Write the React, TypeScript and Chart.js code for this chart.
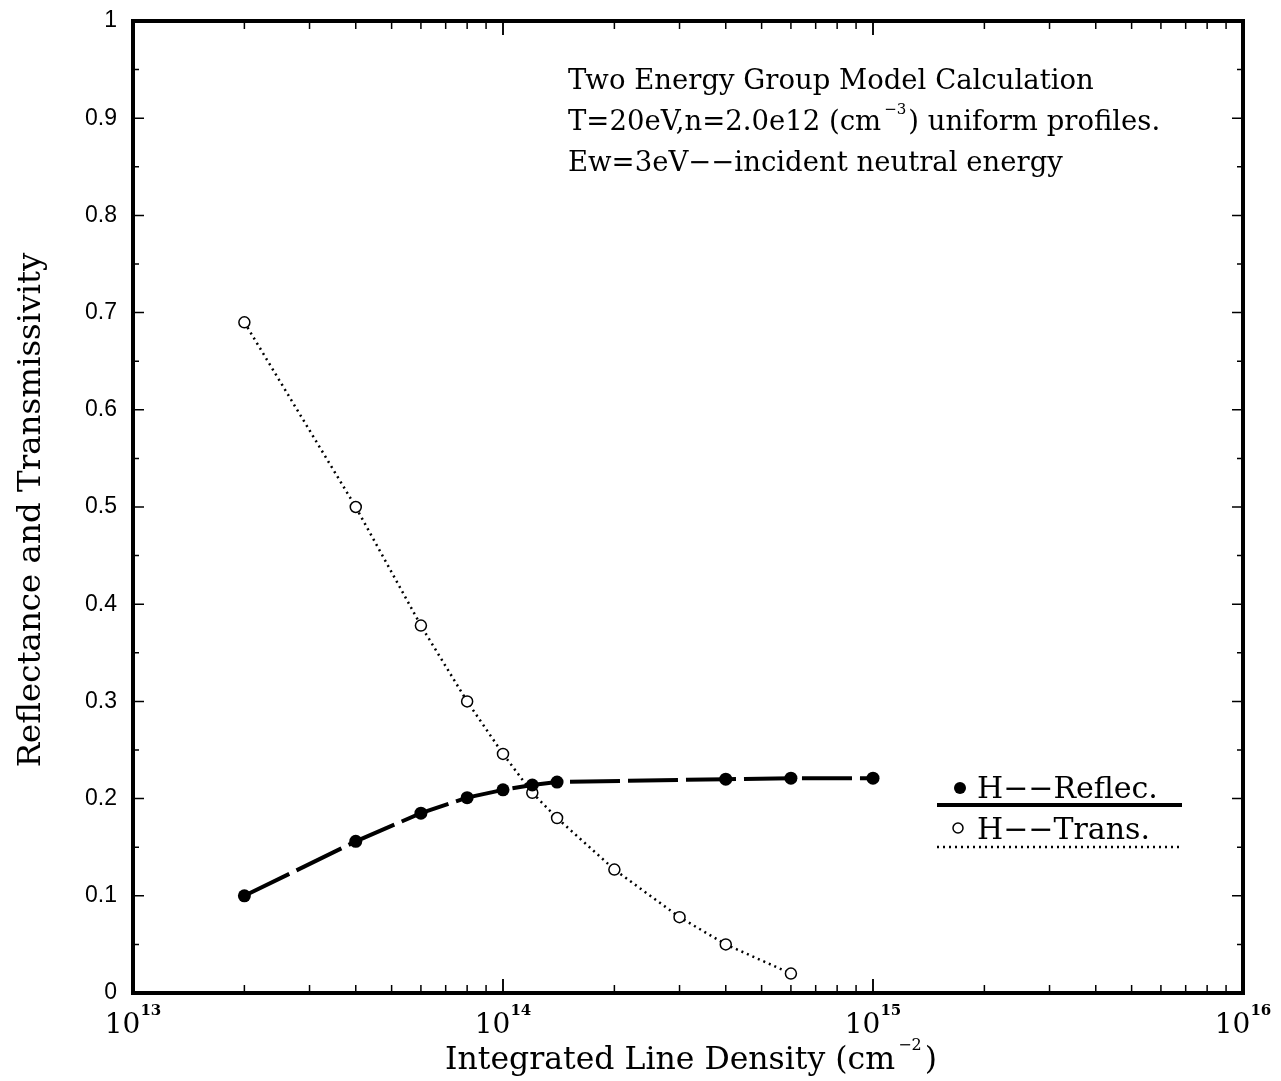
import React, { useEffect, useRef } from "react";
import { Chart, registerables } from "chart.js";

Chart.register(...registerables);

// ---- data ----
const reflecDensity = [2e13, 4e13, 6e13, 8e13, 1e14, 1.2e14, 1.4e14, 4e14, 6e14, 1e15];
const reflectance = [0.1, 0.156, 0.185, 0.201, 0.209, 0.214, 0.217, 0.22, 0.221, 0.221];
const transDensity = [2e13, 4e13, 6e13, 8e13, 1e14, 1.2e14, 1.4e14, 2e14, 3e14, 4e14, 6e14];
const transmissivity = [0.69, 0.5, 0.378, 0.3, 0.246, 0.206, 0.18, 0.127, 0.078, 0.05, 0.02];

const yTickValues = [0, 0.1, 0.2, 0.3, 0.4, 0.5, 0.6, 0.7, 0.8, 0.9, 1];
const yTickLabels = ["0", "0.1", "0.2", "0.3", "0.4", "0.5", "0.6", "0.7", "0.8", "0.9", "1"];
const xDecadeExponents = [13, 14, 15, 16];
const xTickBase = "10";

const annotationLines = [
  "Two Energy Group Model Calculation",
  "T=20eV,n=2.0e12 (cm",
  "Ew=3eV\u2212\u2212incident neutral energy",
];
const annotationSup = "\u22123";
const annotationTail = ") uniform profiles.";
const legendLabels = ["H\u2212\u2212Reflec.", "H\u2212\u2212Trans."];
const xTitle = "Integrated Line Density (cm";
const xTitleSup = "\u22122";
const yTitle = "Reflectance and Transmissivity";

const SERIF = "'DejaVu Serif', serif";
const SANS = "'Liberation Sans', 'DejaVu Sans', sans-serif";

const decorPlugin = {
  id: "decor",
  afterDraw(chart: any) {
    const ctx = chart.ctx;
    const { left, right, top, bottom } = chart.chartArea;
    const xs = chart.scales.x;
    const ys = chart.scales.y;
    ctx.save();
    ctx.strokeStyle = "#000";
    ctx.fillStyle = "#000";

    // frame
    ctx.lineWidth = 4;
    ctx.strokeRect(left, top, right - left, bottom - top);

    // y ticks (major 0.1, minor 0.05) on both sides
    ctx.lineWidth = 1.5;
    for (let i = 0; i <= 20; i++) {
      const v = i * 0.05;
      const py = ys.getPixelForValue(v);
      const len = i % 2 === 0 ? 11 : 6;
      ctx.beginPath();
      ctx.moveTo(left, py);
      ctx.lineTo(left + len, py);
      ctx.moveTo(right, py);
      ctx.lineTo(right - len, py);
      ctx.stroke();
    }
    // x ticks (decades major, 2..9 minor) on both sides
    for (let d = 13; d < 16; d++) {
      for (let m = 1; m <= 10; m++) {
        const v = m * Math.pow(10, d);
        const px = xs.getPixelForValue(v);
        const len = m === 1 || m === 10 ? 14 : 8;
        ctx.beginPath();
        ctx.moveTo(px, bottom);
        ctx.lineTo(px, bottom - len);
        ctx.moveTo(px, top);
        ctx.lineTo(px, top + len);
        ctx.stroke();
      }
    }

    // y tick labels
    ctx.font = `23px ${SANS}`;
    ctx.textAlign = "right";
    ctx.textBaseline = "middle";
    yTickValues.forEach((v, i) => {
      ctx.fillText(yTickLabels[i], left - 16, ys.getPixelForValue(v));
    });

    // x tick labels 10^n
    ctx.textBaseline = "alphabetic";
    xDecadeExponents.forEach((e) => {
      const px = xs.getPixelForValue(Math.pow(10, e));
      ctx.font = `28px ${SERIF}`;
      const wb = ctx.measureText(xTickBase).width;
      ctx.font = `bold 15px ${SERIF}`;
      const ws = ctx.measureText(String(e)).width;
      const x0 = px - (wb + ws) / 2;
      ctx.textAlign = "left";
      ctx.font = `28px ${SERIF}`;
      ctx.fillText(xTickBase, x0, 1033);
      ctx.font = `bold 15px ${SERIF}`;
      ctx.fillText(String(e), x0 + wb, 1015);
    });

    // x title
    ctx.font = `31.5px ${SERIF}`;
    const wt = ctx.measureText(xTitle).width;
    ctx.font = `16px ${SERIF}`;
    const wsup = ctx.measureText(xTitleSup).width;
    ctx.font = `31.5px ${SERIF}`;
    const wp = ctx.measureText(")").width;
    const tx = 691 - (wt + wsup + wp + 6) / 2;
    ctx.textAlign = "left";
    ctx.fillText(xTitle, tx, 1069);
    ctx.font = `16px ${SERIF}`;
    ctx.fillText(xTitleSup, tx + wt + 3, 1050);
    ctx.font = `31.5px ${SERIF}`;
    ctx.fillText(")", tx + wt + wsup + 6, 1069);

    // y title
    ctx.save();
    ctx.translate(40, 510);
    ctx.rotate(-Math.PI / 2);
    ctx.textAlign = "center";
    ctx.font = `32.5px ${SERIF}`;
    ctx.fillText(yTitle, 0, 0);
    ctx.restore();

    // annotation
    ctx.textAlign = "left";
    ctx.font = `27.5px ${SERIF}`;
    const ax = 568;
    ctx.fillText(annotationLines[0], ax, 89);
    ctx.fillText(annotationLines[2], ax, 171);
    ctx.fillText(annotationLines[1], ax, 130);
    const w1 = ctx.measureText(annotationLines[1]).width;
    ctx.font = `15px ${SERIF}`;
    ctx.fillText(annotationSup, ax + w1 + 3, 114);
    const w2 = ctx.measureText(annotationSup).width;
    ctx.font = `27.5px ${SERIF}`;
    ctx.fillText(annotationTail, ax + w1 + w2 + 5, 130);

    // legend
    ctx.font = `30px ${SERIF}`;
    ctx.beginPath();
    ctx.arc(960, 788, 6, 0, Math.PI * 2);
    ctx.fill();
    ctx.fillText(legendLabels[0], 977, 798);
    ctx.lineWidth = 4;
    ctx.beginPath();
    ctx.moveTo(937, 805);
    ctx.lineTo(1182, 805);
    ctx.stroke();

    ctx.lineWidth = 1.5;
    ctx.beginPath();
    ctx.arc(958, 828, 5, 0, Math.PI * 2);
    ctx.stroke();
    ctx.fillText(legendLabels[1], 977, 839);
    ctx.lineWidth = 2.5;
    ctx.setLineDash([2, 4]);
    ctx.beginPath();
    ctx.moveTo(937, 847);
    ctx.lineTo(1182, 847);
    ctx.stroke();
    ctx.setLineDash([]);

    ctx.restore();
  },
};

export default function App() {
  const ref = useRef<HTMLCanvasElement | null>(null);
  useEffect(() => {
    if (!ref.current) return;
    const chart = new Chart(ref.current, {
      type: "scatter",
      data: {
        datasets: [
          {
            label: legendLabels[0],
            data: reflecDensity.map((x, i) => ({ x, y: reflectance[i] })),
            showLine: true,
            borderColor: "#000",
            borderWidth: 4,
            borderDash: [50, 8],
            pointRadius: 6.5,
            pointBackgroundColor: "#000",
            pointBorderColor: "#000",
            pointBorderWidth: 0,
            order: 0,
          },
          {
            label: legendLabels[1],
            data: transDensity.map((x, i) => ({ x, y: transmissivity[i] })),
            showLine: true,
            borderColor: "#000",
            borderWidth: 2.5,
            borderDash: [2, 4],
            pointRadius: 5.5,
            pointBackgroundColor: "#fff",
            pointBorderColor: "#000",
            pointBorderWidth: 1.5,
            order: 1,
          },
        ],
      },
      options: {
        animation: false,
        responsive: false,
        devicePixelRatio: 1,
        layout: { padding: { left: 133, top: 21, right: 38, bottom: 88 } },
        plugins: { legend: { display: false }, tooltip: { enabled: false }, title: { display: false } },
        scales: {
          x: { type: "logarithmic", min: 1e13, max: 1e16, display: false },
          y: { type: "linear", min: 0, max: 1, display: false },
        },
      },
      plugins: [decorPlugin],
    });
    return () => chart.destroy();
  }, []);
  return (
    <div style={{ position: "fixed", left: 0, top: 0, width: 1281, height: 1081, background: "#fff" }}>
      <canvas ref={ref} width={1281} height={1081} style={{ width: 1281, height: 1081 }} />
    </div>
  );
}
